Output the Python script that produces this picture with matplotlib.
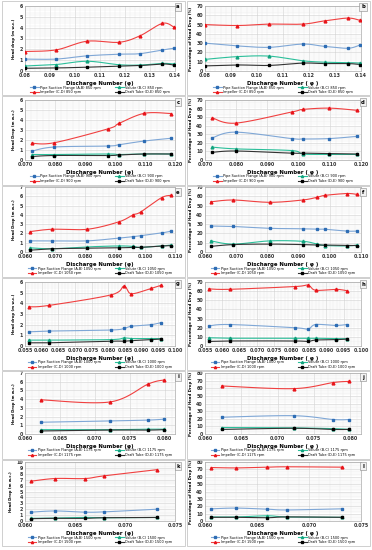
import numpy as np
import matplotlib
matplotlib.use("Agg")
import matplotlib.pyplot as plt
from matplotlib.patches import Rectangle
from matplotlib.ticker import AutoMinorLocator, FormatStrFormatter, MultipleLocator

# ---------------- data ----------------
speeds = ["850", "900", "1050", "1000", "1175", "1500"]

phi_850 = [0.080, 0.0925, 0.1048, 0.1176, 0.1260, 0.1350, 0.1396]
pipe_head_850 = [1.10, 1.10, 1.40, 1.55, 1.60, 1.95, 2.10]
volute_head_850 = [0.46, 0.60, 0.90, 0.58, 0.55, 0.70, 0.65]
impeller_head_850 = [1.80, 1.95, 2.75, 2.65, 3.25, 4.40, 4.05]
draft_head_850 = [0.25, 0.28, 0.35, 0.45, 0.50, 0.65, 0.55]
pipe_pct_850 = [30.0, 27.0, 25.5, 29.0, 26.5, 24.5, 28.0]
volute_pct_850 = [12.5, 15.5, 16.0, 11.0, 9.5, 9.0, 8.5]
impeller_pct_850 = [50.0, 49.0, 50.5, 50.5, 54.0, 57.0, 54.5]
draft_pct_850 = [5.5, 6.5, 6.0, 8.5, 8.0, 8.0, 7.0]

phi_900 = [0.0724, 0.0798, 0.0978, 0.1014, 0.1098, 0.1186]
pipe_head_900 = [0.90, 1.30, 1.40, 1.53, 1.90, 2.17]
volute_head_900 = [0.55, 0.55, 0.60, 0.55, 0.60, 0.60]
impeller_head_900 = [1.67, 1.73, 3.13, 3.67, 4.67, 4.65]
draft_head_900 = [0.35, 0.45, 0.45, 0.50, 0.60, 0.60]
pipe_pct_900 = [26.0, 32.5, 25.0, 24.5, 25.0, 27.5]
volute_pct_900 = [15.0, 13.0, 11.0, 7.0, 6.5, 6.5]
impeller_pct_900 = [49.0, 43.0, 56.0, 59.0, 60.5, 58.0]
draft_pct_900 = [9.0, 10.5, 8.0, 8.0, 7.5, 7.0]

phi_1050 = [0.0618, 0.0690, 0.0808, 0.0913, 0.0960, 0.0985, 0.1055, 0.1088]
pipe_head_1050 = [1.20, 1.20, 1.20, 1.50, 1.65, 1.75, 2.05, 2.25]
volute_head_1050 = [0.45, 0.35, 0.55, 0.65, 0.60, 0.50, 0.65, 0.75]
impeller_head_1050 = [2.20, 2.45, 2.45, 3.25, 4.00, 4.30, 5.85, 6.10]
draft_head_1050 = [0.20, 0.35, 0.40, 0.45, 0.50, 0.50, 0.65, 0.70]
pipe_pct_1050 = [28.0, 27.5, 25.5, 25.0, 24.5, 24.5, 22.5, 22.5]
volute_pct_1050 = [12.0, 8.5, 12.0, 11.5, 8.5, 7.0, 6.5, 7.5]
impeller_pct_1050 = [54.0, 56.0, 53.5, 56.0, 59.0, 61.0, 63.0, 62.0]
draft_pct_1050 = [6.0, 8.0, 8.5, 8.0, 7.5, 7.5, 7.0, 7.0]

phi_1000 = [0.0561, 0.0621, 0.0809, 0.0847, 0.0869, 0.0928, 0.0959]
pipe_head_1000 = [1.33, 1.40, 1.50, 1.65, 1.85, 2.00, 2.20]
volute_head_1000 = [0.55, 0.55, 0.60, 0.75, 0.70, 0.70, 0.70]
impeller_head_1000 = [3.67, 3.80, 4.80, 5.60, 4.90, 5.40, 5.70]
draft_head_1000 = [0.30, 0.30, 0.45, 0.45, 0.50, 0.60, 0.65]
pipe_pct_1000 = [22.0, 23.5, 20.0, 18.5, 23.5, 22.5, 23.5]
volute_pct_1000 = [9.0, 8.5, 8.5, 8.5, 8.5, 8.0, 8.0]
impeller_pct_1000 = [62.5, 62.0, 65.0, 66.5, 61.0, 62.0, 60.5]
draft_pct_1000 = [5.0, 5.5, 5.5, 5.0, 6.5, 7.0, 7.5]

phi_1175 = [0.0623, 0.0722, 0.0777, 0.0799]
pipe_head_1175 = [1.35, 1.50, 1.60, 1.70]
volute_head_1175 = [0.50, 0.50, 0.55, 0.55]
impeller_head_1175 = [3.92, 3.68, 5.75, 6.20]
draft_head_1175 = [0.35, 0.45, 0.45, 0.50]
pipe_pct_1175 = [22.0, 24.0, 19.0, 19.0]
volute_pct_1175 = [8.5, 8.0, 7.0, 6.0]
impeller_pct_1175 = [63.0, 59.5, 67.5, 69.0]
draft_pct_1175 = [6.0, 7.5, 6.0, 6.0]

phi_1500 = [0.0606, 0.0630, 0.0660, 0.0679, 0.0732]
pipe_head_1500 = [1.50, 1.70, 1.50, 1.55, 2.00]
volute_head_1500 = [0.45, 0.50, 0.60, 0.55, 0.60]
impeller_head_1500 = [6.75, 7.20, 7.20, 7.65, 8.70]
draft_head_1500 = [0.40, 0.45, 0.45, 0.55, 0.60]
pipe_pct_1500 = [16.5, 17.5, 16.0, 15.0, 16.5]
volute_pct_1500 = [5.5, 5.5, 7.0, 5.5, 5.0]
impeller_pct_1500 = [72.5, 72.0, 73.0, 73.5, 73.0]
draft_pct_1500 = [5.0, 5.0, 4.5, 5.5, 5.0]

# ---------------- styles ----------------
series_names = ["Pipe Suction Flange (A-B)", "Volute (B-C)", "Impeller (C-D)", "Draft Tube (D-E)"]
line_cols = ["#7FA7D6", "#2BBF9A", "#F04040", "#333333"]
mark_cols = ["#2E6DB4", "#12A37E", "#E8141A", "#000000"]
markers = ["s", "^", "^", "s"]

plt.rcParams["font.family"] = ["DejaVu Sans"]
fig = plt.figure(figsize=(3.72, 5.5), dpi=100)
W, H = 372.0, 550.0


def rect(l, r, t, b):
    return [l / W, 1 - b / H, (r - l) / W, (b - t) / H]


def smooth(x, y, xr, yr, n=24):
    x = np.asarray(x, float)
    y = np.asarray(y, float)
    P = np.column_stack([(x - xr[0]) / (xr[1] - xr[0]), (y - yr[0]) / (yr[1] - yr[0])])
    Q = np.vstack([P[0], P, P[-1]])
    out = []
    t = np.linspace(0, 1, n, endpoint=False)[:, None]
    for i in range(1, len(Q) - 2):
        p0, p1, p2, p3 = Q[i - 1], Q[i], Q[i + 1], Q[i + 2]
        c1 = p1 + (p2 - p0) / 6.0
        c2 = p2 - (p3 - p1) / 6.0
        out.append((1 - t) ** 3 * p1 + 3 * (1 - t) ** 2 * t * c1 + 3 * (1 - t) * t ** 2 * c2 + t ** 3 * p2)
    out.append(P[-1][None, :])
    S = np.vstack(out)
    return S[:, 0] * (xr[1] - xr[0]) + xr[0], S[:, 1] * (yr[1] - yr[0]) + yr[0]


panels = [
    (phi_850, [pipe_head_850, volute_head_850, impeller_head_850, draft_head_850],
     [pipe_pct_850, volute_pct_850, impeller_pct_850, draft_pct_850], speeds[0],
     (0.08, 0.14), 0.01, "%.2f", 6, 70, "Head drop (m w.c.)"),
    (phi_900, [pipe_head_900, volute_head_900, impeller_head_900, draft_head_900],
     [pipe_pct_900, volute_pct_900, impeller_pct_900, draft_pct_900], speeds[1],
     (0.07, 0.12), 0.01, "%.3f", 6, 70, "Head Drop (m w.c.)"),
    (phi_1050, [pipe_head_1050, volute_head_1050, impeller_head_1050, draft_head_1050],
     [pipe_pct_1050, volute_pct_1050, impeller_pct_1050, draft_pct_1050], speeds[2],
     (0.06, 0.11), 0.01, "%.3f", 7, 70, "Head Drop (m w.c.)"),
    (phi_1000, [pipe_head_1000, volute_head_1000, impeller_head_1000, draft_head_1000],
     [pipe_pct_1000, volute_pct_1000, impeller_pct_1000, draft_pct_1000], speeds[3],
     (0.055, 0.10), 0.005, "%.3f", 6, 70, "Head drop (m w.c.)"),
    (phi_1175, [pipe_head_1175, volute_head_1175, impeller_head_1175, draft_head_1175],
     [pipe_pct_1175, volute_pct_1175, impeller_pct_1175, draft_pct_1175], speeds[4],
     (0.06, 0.0815), 0.005, "%.3f", 7, 80, "Head Drop (m w.c.)"),
    (phi_1500, [pipe_head_1500, volute_head_1500, impeller_head_1500, draft_head_1500],
     [pipe_pct_1500, volute_pct_1500, impeller_pct_1500, draft_pct_1500], speeds[5],
     (0.06, 0.075), 0.005, "%.3f", 10, 80, "Head Drop (m w.c.)"),
]

rows_px = [(6, 71, 1, 95), (100, 160, 96, 185), (187, 252, 186, 277),
           (282, 346, 278, 370), (373, 434, 371, 459), (462, 521, 460, 546)]
cols_px = [(25, 175, 2, 185), (205, 361, 187, 370)]
letters = "abcdefghijkl"

for r, (phi, heads, pcts, spd, xlim, xstep, xfmt, hmax, pmax, hlab) in enumerate(panels):
    at, ab, bt, bb = rows_px[r]
    for c in range(2):
        al, ar, bl, br = cols_px[c]
        fig.patches.append(Rectangle((bl / W, 1 - bb / H), (br - bl) / W, (bb - bt) / H,
                                     transform=fig.transFigure, fill=False,
                                     edgecolor="#C8C8C8", linewidth=0.6))
        ax = fig.add_axes(rect(al, ar, at, ab))
        vals = heads if c == 0 else pcts
        ymax = hmax if c == 0 else pmax
        ax.set_xlim(*xlim)
        ax.set_ylim(0, ymax)
        handles = []
        for k in range(4):
            sx, sy = smooth(phi, vals[k], xlim, (0, ymax))
            ax.plot(sx, sy, color=line_cols[k], lw=0.8, zorder=3)
            ax.plot(phi, vals[k], linestyle="none", marker=markers[k], ms=2.0,
                    color=mark_cols[k], zorder=4)
            h, = ax.plot([], [], color=line_cols[k], lw=0.8, marker=markers[k], ms=1.6,
                         markerfacecolor=mark_cols[k], markeredgecolor=mark_cols[k])
            handles.append(h)
        ax.xaxis.set_major_locator(MultipleLocator(xstep))
        ax.xaxis.set_major_formatter(FormatStrFormatter(xfmt))
        ax.yaxis.set_major_locator(MultipleLocator(1 if c == 0 else 10))
        ax.xaxis.set_minor_locator(AutoMinorLocator(5))
        ax.yaxis.set_minor_locator(AutoMinorLocator(5))
        ax.grid(which="major", color="#CFCFCF", lw=0.4)
        ax.grid(which="minor", color="#E8E8E8", lw=0.3)
        ax.set_axisbelow(True)
        ax.tick_params(which="both", length=0, pad=1.5, labelsize=3.4)
        for lab in ax.get_xticklabels() + ax.get_yticklabels():
            lab.set_fontweight("bold")
            lab.set_color("#333333")
        for s in ax.spines.values():
            s.set_color("#AAAAAA")
            s.set_linewidth(0.5)
        if c == 0:
            ax.set_xlabel("Discharge Number (\u03c6)", fontsize=3.9, fontweight="bold", labelpad=1.8)
            ax.set_ylabel(hlab, fontsize=2.7, fontweight="bold", labelpad=2.5)
        else:
            ax.set_xlabel("Discharge Number ( \u03c6 )", fontsize=3.9, fontweight="bold", labelpad=1.8)
            ax.set_ylabel("Percentage of Head Drop (%)", fontsize=2.8, fontweight="bold", labelpad=2.5)
        labels = [f"{n} {spd} rpm" for n in series_names]
        order = [0, 2, 1, 3]
        ax.legend([handles[i] for i in order], [labels[i] for i in order], ncol=2,
                  loc="upper center", bbox_to_anchor=((al + ar) / 2 / W, 1 - (ab + 14.5) / H),
                  bbox_transform=fig.transFigure, frameon=False,
                  fontsize=2.5, handlelength=2.5, columnspacing=4.0, labelspacing=0.2,
                  handletextpad=0.5, borderaxespad=0, borderpad=0)
        lx = (br - 7) / W
        ly = 1 - (bt + 6) / H
        fig.text(lx, ly, letters[2 * r + c], fontsize=3.8, fontweight="bold", ha="center",
                 va="center", bbox=dict(boxstyle="square,pad=0.3", fc="#F2F2F2",
                                        ec="#888888", lw=0.4))

fig.savefig("out.png", dpi=100)
